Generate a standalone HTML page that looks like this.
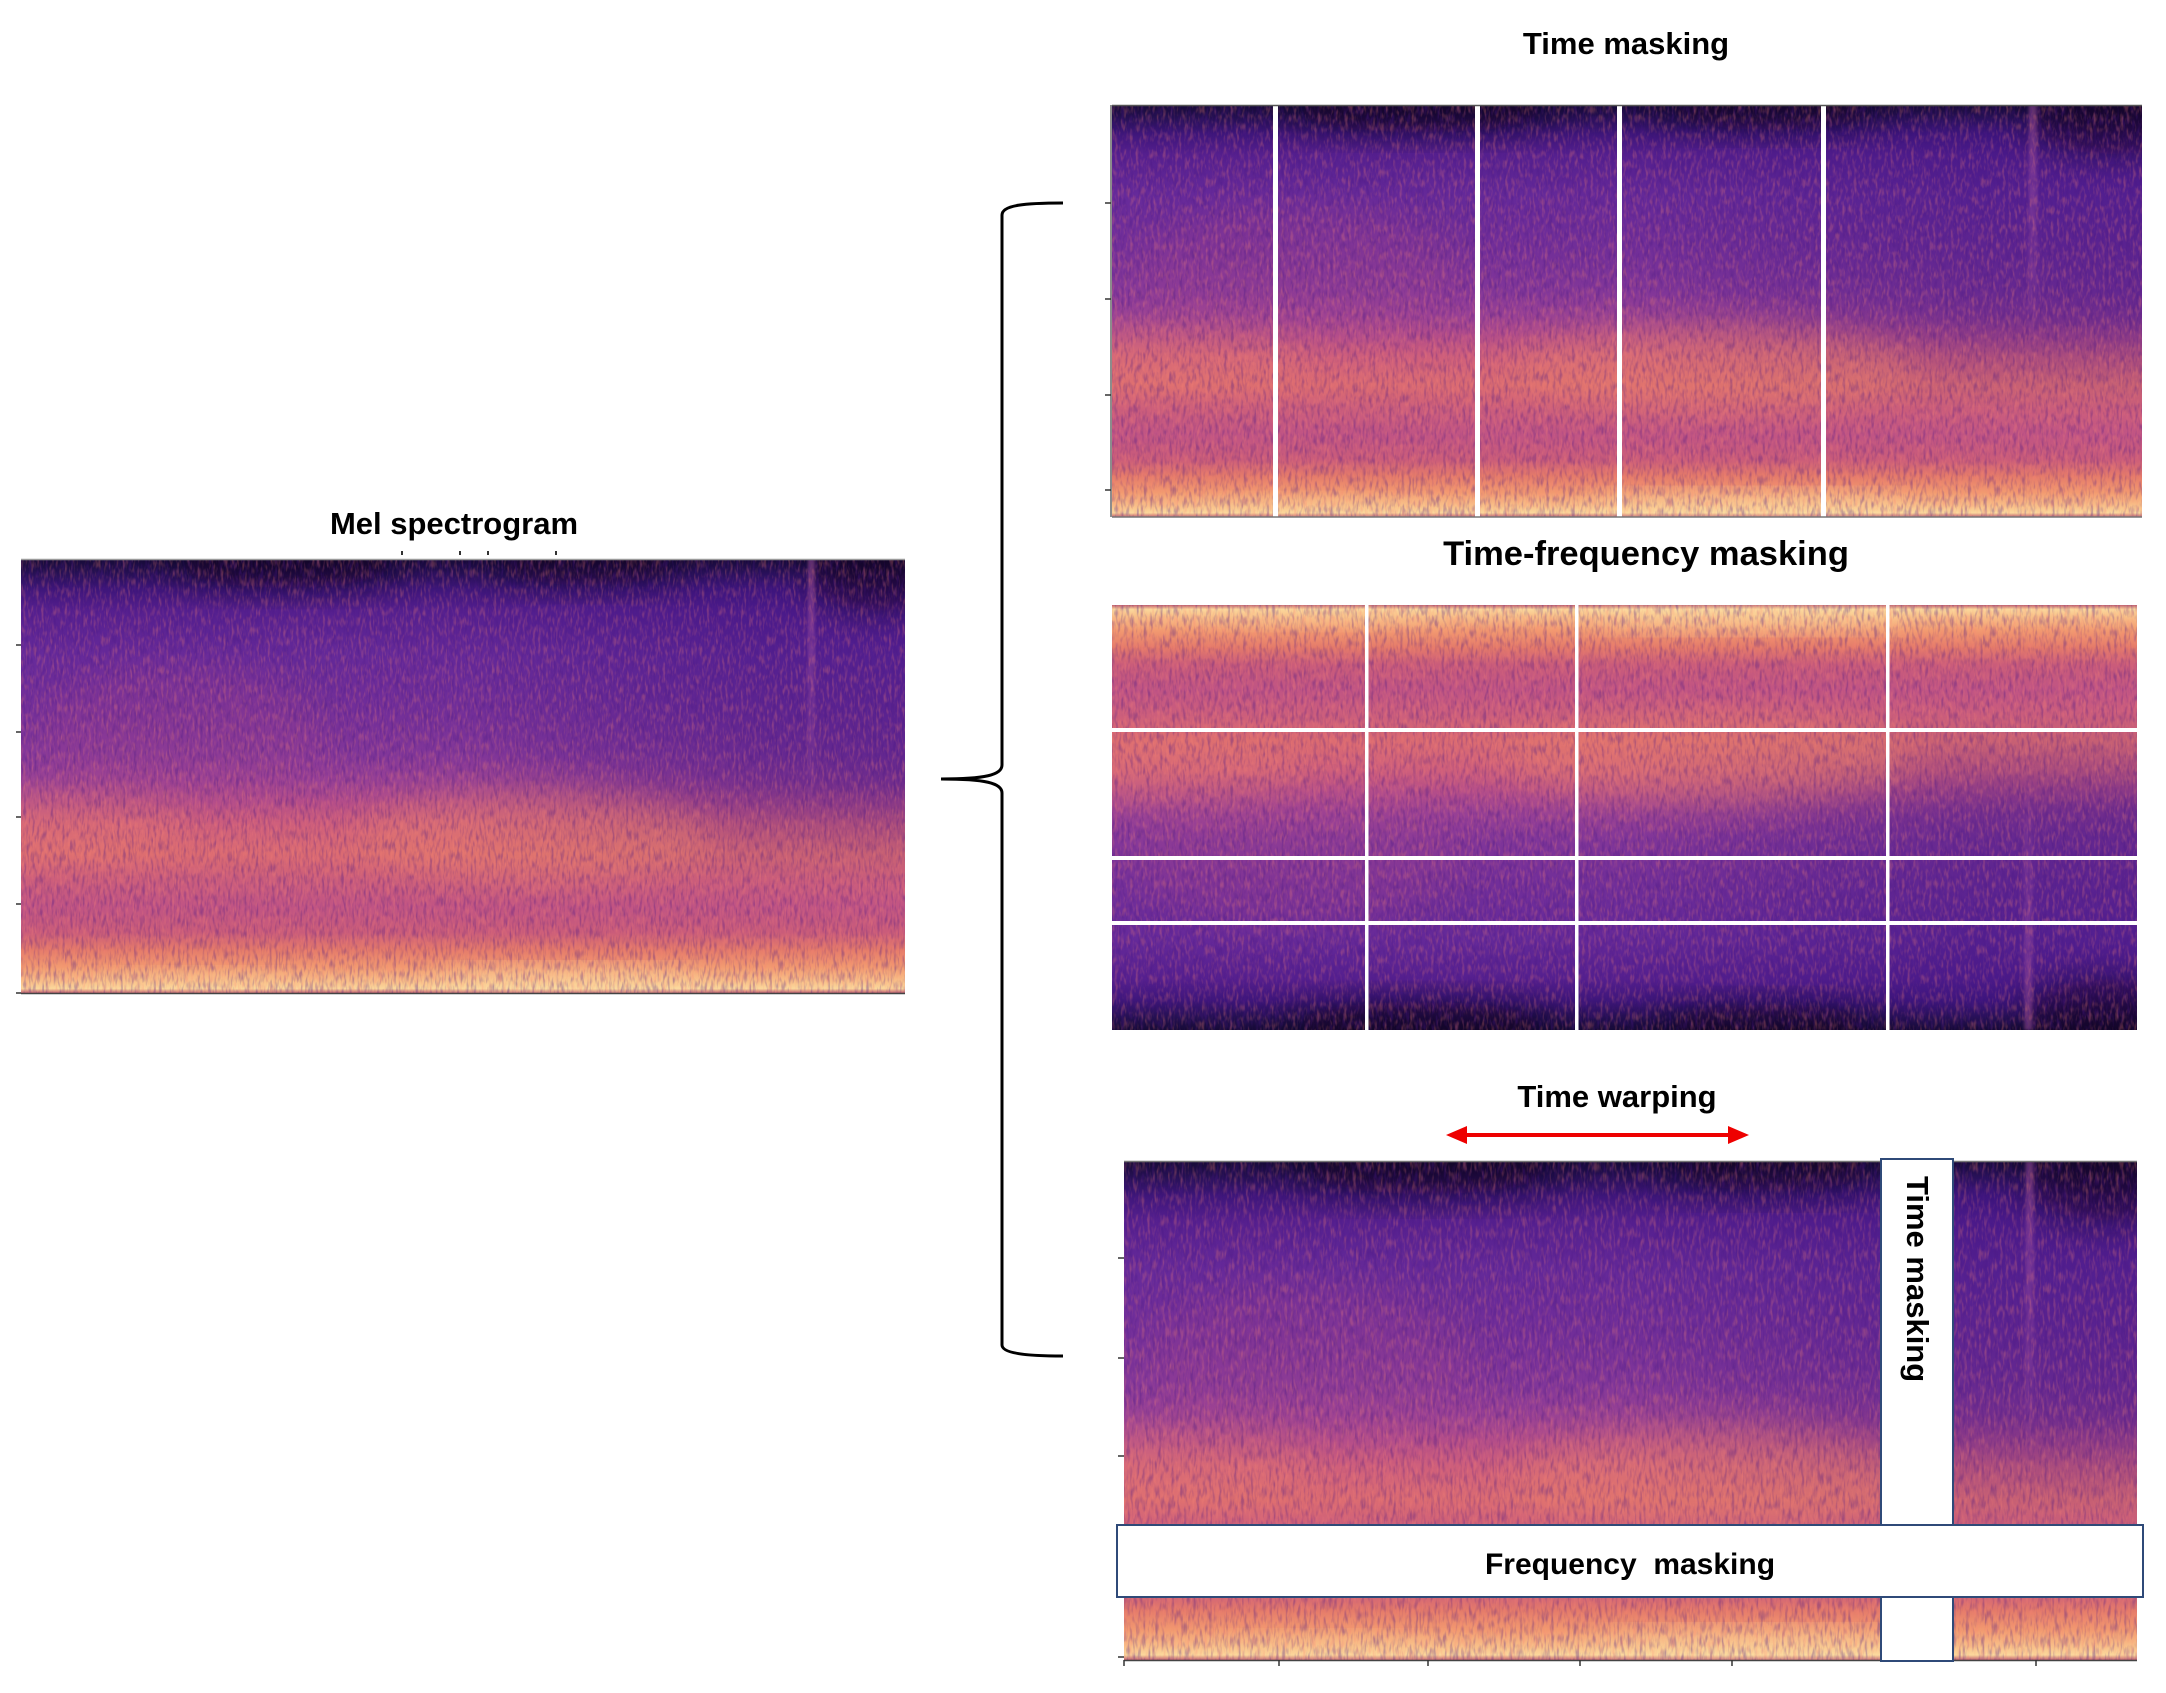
<!DOCTYPE html>
<html>
<head>
<meta charset="utf-8">
<style>
  html, body { margin:0; padding:0; background:#ffffff; }
  body { width:2166px; height:1693px; overflow:hidden; position:relative; }
  svg { position:absolute; left:0; top:0; }
  text { font-family:"Liberation Sans", Arial, sans-serif; font-weight:bold; fill:#000; }
</style>
</head>
<body>
<svg width="2166" height="1693" viewBox="0 0 2166 1693" xmlns="http://www.w3.org/2000/svg">
  <defs>
    <linearGradient id="gBase" x1="0" y1="0" x2="0" y2="1">
      <stop offset="0" stop-color="#160a36"/>
      <stop offset="0.03" stop-color="#251052"/>
      <stop offset="0.07" stop-color="#3e167a"/>
      <stop offset="0.12" stop-color="#56208f"/>
      <stop offset="0.22" stop-color="#662a9a"/>
      <stop offset="0.35" stop-color="#74309a"/>
      <stop offset="0.45" stop-color="#84389a"/>
      <stop offset="0.51" stop-color="#9a4296"/>
      <stop offset="0.56" stop-color="#b64f8a"/>
      <stop offset="0.61" stop-color="#d0607c"/>
      <stop offset="0.68" stop-color="#dc6c72"/>
      <stop offset="0.74" stop-color="#cc5e7c"/>
      <stop offset="0.80" stop-color="#c05484"/>
      <stop offset="0.86" stop-color="#ca5c7a"/>
      <stop offset="0.90" stop-color="#e47a6a"/>
      <stop offset="0.94" stop-color="#f29a70"/>
      <stop offset="0.975" stop-color="#f9c28a"/>
      <stop offset="0.99" stop-color="#fbd89c"/>
      <stop offset="1" stop-color="#c06070"/>
    </linearGradient>
    <linearGradient id="gRight" x1="0" y1="0" x2="1" y2="0">
      <stop offset="0" stop-color="#3a1282" stop-opacity="0"/>
      <stop offset="0.5" stop-color="#3a1282" stop-opacity="0.03"/>
      <stop offset="0.7" stop-color="#3a1282" stop-opacity="0.25"/>
      <stop offset="0.85" stop-color="#3a1282" stop-opacity="0.4"/>
      <stop offset="1" stop-color="#3a1282" stop-opacity="0.45"/>
    </linearGradient>
    <linearGradient id="gMaskV" x1="0" y1="0" x2="0" y2="1">
      <stop offset="0" stop-color="#000"/>
      <stop offset="0.1" stop-color="#fff"/>
      <stop offset="0.52" stop-color="#fff"/>
      <stop offset="0.75" stop-color="#000"/>
      <stop offset="1" stop-color="#000"/>
    </linearGradient>
    <mask id="mMid" maskContentUnits="userSpaceOnUse">
      <rect x="0" y="0" width="1000" height="500" fill="url(#gMaskV)"/>
    </mask>
    <linearGradient id="gStreak" x1="0" y1="0" x2="0" y2="1">
      <stop offset="0" stop-color="#b05aa0" stop-opacity="0.5"/>
      <stop offset="0.6" stop-color="#b05aa0" stop-opacity="0.25"/>
      <stop offset="1" stop-color="#b05aa0" stop-opacity="0"/>
    </linearGradient>
    <filter id="blur" x="-50%" y="-50%" width="200%" height="200%">
      <feGaussianBlur stdDeviation="18"/>
    </filter>
    <filter id="blur2" x="-50%" y="-50%" width="200%" height="200%">
      <feGaussianBlur stdDeviation="1.5"/>
    </filter>
    <filter id="nDark" x="0" y="0" width="1" height="1" color-interpolation-filters="sRGB">
      <feTurbulence type="fractalNoise" baseFrequency="0.32 0.08" numOctaves="2" seed="4"/>
      <feColorMatrix type="matrix" values="0 0 0 0 0.30  0 0 0 0 0.10  0 0 0 0 0.52  3.0 0 0 0 -1.35"/>
    </filter>
    <filter id="nLight" x="0" y="0" width="1" height="1" color-interpolation-filters="sRGB">
      <feTurbulence type="fractalNoise" baseFrequency="0.34 0.09" numOctaves="2" seed="11"/>
      <feColorMatrix type="matrix" values="0 0 0 0 0.98  0 0 0 0 0.52  0 0 0 0 0.46  0 3.0 0 0 -1.4"/>
    </filter>

    <symbol id="spec" viewBox="0 0 1000 500" preserveAspectRatio="none">
      <rect x="0" y="0" width="1000" height="500" fill="url(#gBase)"/>
      <rect x="0" y="0" width="1000" height="500" fill="url(#gRight)" mask="url(#mMid)"/>
      <ellipse cx="580" cy="320" rx="200" ry="55" fill="#f08a66" opacity="0.3" filter="url(#blur)"/>
      <ellipse cx="70" cy="305" rx="120" ry="40" fill="#f08a66" opacity="0.22" filter="url(#blur)"/>
      <ellipse cx="180" cy="200" rx="160" ry="80" fill="#b04a8a" opacity="0.22" filter="url(#blur)"/>
      <ellipse cx="620" cy="486" rx="160" ry="12" fill="#fde4a8" opacity="0.6" filter="url(#blur)"/>
      <ellipse cx="200" cy="488" rx="120" ry="10" fill="#fcd49a" opacity="0.4" filter="url(#blur)"/>
      <ellipse cx="300" cy="8" rx="130" ry="25" fill="#080418" opacity="0.55" filter="url(#blur)"/>
      <ellipse cx="640" cy="8" rx="110" ry="22" fill="#080418" opacity="0.5" filter="url(#blur)"/>
      <ellipse cx="970" cy="20" rx="80" ry="40" fill="#080418" opacity="0.55" filter="url(#blur)"/>
      <rect x="890" y="0" width="8" height="320" fill="url(#gStreak)" filter="url(#blur2)"/>
      <rect x="0" y="0" width="1000" height="500" filter="url(#nDark)" opacity="0.35"/>
      <rect x="0" y="0" width="1000" height="500" filter="url(#nLight)" opacity="0.28"/>
    </symbol>
  </defs>

  <!-- ================= Mel spectrogram ================= -->
  <text x="454" y="534" font-size="31" text-anchor="middle">Mel spectrogram</text>
  <g stroke="#333" stroke-width="2">
    <line x1="402" y1="551" x2="402" y2="555"/>
    <line x1="460" y1="551" x2="460" y2="555"/>
    <line x1="488" y1="551" x2="488" y2="555"/>
    <line x1="556" y1="551" x2="556" y2="555"/>
  </g>
  <use href="#spec" x="21" y="559" width="884" height="434"/>
  <line x1="21" y1="559.5" x2="905" y2="559.5" stroke="#9a9a9a" stroke-width="1.5"/>
  <line x1="21" y1="993.5" x2="905" y2="993.5" stroke="#444" stroke-width="1.5"/>
  <g stroke="#333" stroke-width="1.5">
    <line x1="16" y1="645" x2="21" y2="645"/>
    <line x1="16" y1="732" x2="21" y2="732"/>
    <line x1="16" y1="817" x2="21" y2="817"/>
    <line x1="16" y1="904" x2="21" y2="904"/>
    <line x1="16" y1="993" x2="21" y2="993"/>
  </g>

  <!-- ================= Brace ================= -->
  <path d="M1063,203 C1025,203 1002,205 1002,215 L1002,765 C1002,775 985,779 941,779 C985,779 1002,783 1002,793 L1002,1345 C1002,1353 1025,1356 1063,1356"
        fill="none" stroke="#000" stroke-width="3"/>

  <!-- ================= Time masking ================= -->
  <text x="1626" y="54" font-size="31" text-anchor="middle">Time masking</text>
  <use href="#spec" x="1112" y="105" width="1030" height="412"/>
  <g fill="#ffffff">
    <rect x="1273" y="105" width="5" height="412"/>
    <rect x="1475" y="105" width="5" height="412"/>
    <rect x="1617" y="105" width="5" height="412"/>
    <rect x="1821" y="105" width="5" height="412"/>
  </g>
  <line x1="1112" y1="105.5" x2="2142" y2="105.5" stroke="#555" stroke-width="1.5"/>
  <line x1="1112" y1="517" x2="2142" y2="517" stroke="#777" stroke-width="1.5"/>
  <line x1="1111" y1="105" x2="1111" y2="517" stroke="#666" stroke-width="1.5"/>
  <g stroke="#333" stroke-width="1.5">
    <line x1="1105" y1="203" x2="1111" y2="203"/>
    <line x1="1105" y1="299" x2="1111" y2="299"/>
    <line x1="1105" y1="395" x2="1111" y2="395"/>
    <line x1="1105" y1="490" x2="1111" y2="490"/>
  </g>

  <!-- ================= Time-frequency masking ================= -->
  <text x="1646" y="565" font-size="34.5" text-anchor="middle">Time-frequency masking</text>
  <g transform="translate(1112,1030) scale(1,-1)">
    <use href="#spec" x="0" y="0" width="1025" height="425"/>
  </g>
  <g fill="#ffffff">
    <rect x="1365" y="605" width="3.5" height="425"/>
    <rect x="1575" y="605" width="3.5" height="425"/>
    <rect x="1886" y="605" width="3.5" height="425"/>
    <rect x="1112" y="728" width="1025" height="4"/>
    <rect x="1112" y="856" width="1025" height="4"/>
    <rect x="1112" y="921" width="1025" height="4"/>
  </g>

  <!-- ================= Time warping ================= -->
  <text x="1617" y="1107" font-size="31" text-anchor="middle">Time warping</text>
  <line x1="1462" y1="1135" x2="1733" y2="1135" stroke="#ee0000" stroke-width="4"/>
  <polygon points="1446,1135 1467,1126 1467,1144" fill="#ee0000"/>
  <polygon points="1749,1135 1728,1126 1728,1144" fill="#ee0000"/>

  <use href="#spec" x="1124" y="1161" width="1013" height="499"/>
  <line x1="1124" y1="1161.5" x2="2137" y2="1161.5" stroke="#777" stroke-width="1.5"/>
  <line x1="1124" y1="1660.5" x2="2137" y2="1660.5" stroke="#444" stroke-width="1.5"/>
  <g stroke="#333" stroke-width="1.5">
    <line x1="1118" y1="1258" x2="1124" y2="1258"/>
    <line x1="1118" y1="1358" x2="1124" y2="1358"/>
    <line x1="1118" y1="1456" x2="1124" y2="1456"/>
    <line x1="1118" y1="1657" x2="1124" y2="1657"/>
    <line x1="1124" y1="1660" x2="1124" y2="1666"/>
    <line x1="1279" y1="1660" x2="1279" y2="1666"/>
    <line x1="1428" y1="1660" x2="1428" y2="1666"/>
    <line x1="1580" y1="1660" x2="1580" y2="1666"/>
    <line x1="1732" y1="1660" x2="1732" y2="1666"/>
    <line x1="2036" y1="1660" x2="2036" y2="1666"/>
  </g>

  <rect x="1881" y="1159" width="72" height="502" fill="#ffffff" stroke="#2f4a78" stroke-width="2"/>
  <text transform="translate(1907,1176) rotate(90)" font-size="31" text-anchor="start">Time masking</text>

  <rect x="1117" y="1525" width="1026" height="72" fill="#ffffff" stroke="#2f4a78" stroke-width="2"/>
  <text x="1630" y="1574" font-size="30" text-anchor="middle" style="white-space:pre" xml:space="preserve">Frequency  masking</text>
</svg>
</body>
</html>
